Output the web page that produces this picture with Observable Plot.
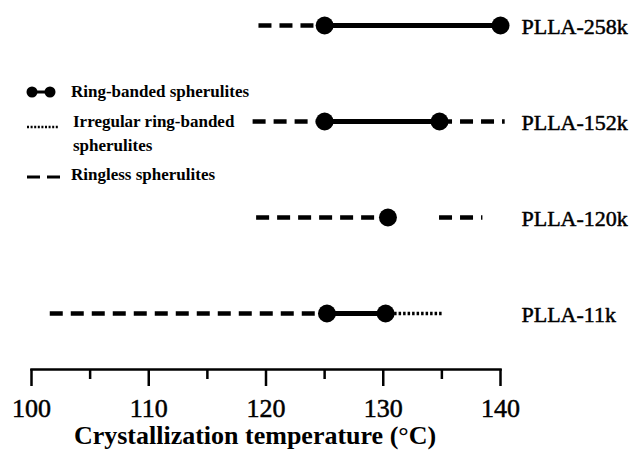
<!DOCTYPE html>
<html>
<head>
<meta charset="utf-8">
<script src="https://cdn.jsdelivr.net/npm/d3@7"></script>
<script src="https://cdn.jsdelivr.net/npm/@observablehq/plot@0.6"></script>
<style>
  html, body { margin: 0; padding: 0; background: #fff; }
  #chart svg { display: block; }
</style>
</head>
<body>
<div id="chart"></div>
<script>
// Samples (rows, top to bottom)
const samples = ["PLLA-258k", "PLLA-152k", "PLLA-120k", "PLLA-11k"];

// Ringless spherulites (dashed) ranges, °C
const ringless = [
  {sample: "PLLA-258k", x1: 119.4, x2: 125.0},
  {sample: "PLLA-152k", x1: 118.9, x2: 125.0},
  {sample: "PLLA-152k", x1: 134.8, x2: 140.4},
  {sample: "PLLA-120k", x1: 119.2, x2: 130.4},
  {sample: "PLLA-120k", x1: 134.8, x2: 138.5},
  {sample: "PLLA-11k",  x1: 101.6, x2: 125.2}
];

// Ring-banded spherulites (solid) ranges, °C
const ringBanded = [
  {sample: "PLLA-258k", x1: 125.0, x2: 140.0},
  {sample: "PLLA-152k", x1: 125.0, x2: 134.8},
  {sample: "PLLA-11k",  x1: 125.2, x2: 130.2}
];

// Irregular ring-banded spherulites (dotted) ranges, °C
const irregular = [
  {sample: "PLLA-11k", x1: 130.2, x2: 135.1}
];

// Boundary points (filled circles), °C
const points = [
  {sample: "PLLA-258k", x: 125.0},
  {sample: "PLLA-258k", x: 140.0},
  {sample: "PLLA-152k", x: 125.0},
  {sample: "PLLA-152k", x: 134.8},
  {sample: "PLLA-120k", x: 130.4},
  {sample: "PLLA-11k",  x: 125.2},
  {sample: "PLLA-11k",  x: 130.2}
];

// Axis ticks
const majorTicks = [100, 110, 120, 130, 140];
const minorTicks = [105, 115, 125, 135];
const xTitle = "Crystallization temperature (\u00B0C)";

const FONT = "'Liberation Serif', 'Times New Roman', serif";
const INK = "#000";

const chart = Plot.plot({
  width: 639,
  height: 456,
  marginLeft: 31,
  marginRight: 139,
  marginTop: 0,
  marginBottom: 87,
  style: {fontFamily: FONT, color: INK, background: "#fff", overflow: "visible"},
  x: {domain: [100, 140]},
  y: {type: "point", domain: samples, range: [24, 314], padding: 0, axis: null},
  marks: [
    Plot.frame({anchor: "bottom", stroke: INK, strokeWidth: 2.5}),
    Plot.axisX({ticks: majorTicks, tickSize: 17, tickPadding: 12, fontSize: 26,
                stroke: INK, strokeWidth: 2.5, label: null, tickFormat: d => String(d)}),
    Plot.axisX({ticks: minorTicks, tickSize: 10, stroke: INK, strokeWidth: 2.5,
                label: null, tickFormat: () => ""}),
    Plot.ruleY(ringless, {y: "sample", x1: "x1", x2: "x2", stroke: INK,
                          strokeWidth: 4.5, strokeDasharray: "13,8"}),
    Plot.ruleY(ringBanded, {y: "sample", x1: "x1", x2: "x2", stroke: INK, strokeWidth: 5}),
    Plot.ruleY(irregular, {y: "sample", x1: "x1", x2: "x2", stroke: INK,
                           strokeWidth: 3.5, strokeDasharray: "2.5,2"}),
    Plot.dot(points, {x: "x", y: "sample", r: 9, fill: INK, stroke: "none"}),
    Plot.text(samples, {y: d => d, text: d => d, frameAnchor: "right", dx: 21, dy: 1,
                        textAnchor: "start", fontSize: 22, fill: INK,
                        stroke: INK, strokeWidth: 0.5}),
    Plot.text([xTitle], {frameAnchor: "bottom", dy: 74, dx: -11, fontSize: 26,
                         fontWeight: "bold", fill: INK})
  ]
});

// Slightly heavier tick labels, as in the reference
d3.select(chart).selectAll("g[aria-label='x-axis tick label'] text")
  .attr("stroke", INK).attr("stroke-width", 0.5);

document.getElementById("chart").appendChild(chart);

// Legend (key), drawn into the same SVG
const svg = d3.select(chart);
const lg = svg.append("g").attr("font-family", FONT).attr("font-weight", "bold")
  .attr("font-size", 17).attr("fill", INK).attr("text-anchor", "start");

const legendItems = [
  {label: ["Ring-banded spherulites"], y: 92, kind: "ring"},
  {label: ["Irregular ring-banded", "spherulites"], y: 127, kind: "irregular"},
  {label: ["Ringless spherulites"], y: 177, kind: "ringless"}
];

legendItems.forEach(it => {
  if (it.kind === "ring") {
    lg.append("line").attr("x1", 32).attr("x2", 50).attr("y1", it.y).attr("y2", it.y)
      .attr("stroke", INK).attr("stroke-width", 3);
    lg.append("circle").attr("cx", 32).attr("cy", it.y).attr("r", 5.5);
    lg.append("circle").attr("cx", 50).attr("cy", it.y).attr("r", 5.5);
    lg.append("text").attr("x", 71).attr("y", it.y).attr("dy", "0.32em").text(it.label[0]);
  } else if (it.kind === "irregular") {
    lg.append("line").attr("x1", 27).attr("x2", 59).attr("y1", it.y).attr("y2", it.y)
      .attr("stroke", INK).attr("stroke-width", 2.5).attr("stroke-dasharray", "2,1.6");
    lg.append("text").attr("x", 73).attr("y", it.y - 5).attr("dy", "0.32em").text(it.label[0]);
    lg.append("text").attr("x", 73).attr("y", it.y + 19).attr("dy", "0.32em").text(it.label[1]);
  } else {
    lg.append("line").attr("x1", 27).attr("x2", 60).attr("y1", it.y).attr("y2", it.y)
      .attr("stroke", INK).attr("stroke-width", 3).attr("stroke-dasharray", "13,7");
    lg.append("text").attr("x", 71).attr("y", it.y - 2).attr("dy", "0.32em").text(it.label[0]);
  }
});
</script>
</body>
</html>
